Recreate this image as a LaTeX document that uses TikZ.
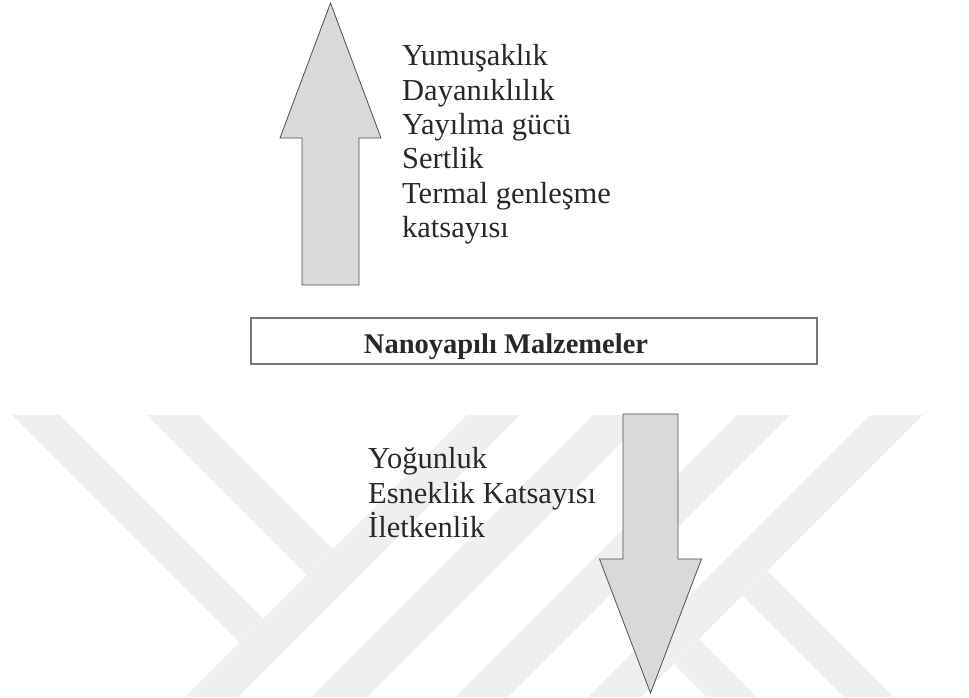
\documentclass[tikz,border=0pt]{standalone}
\usepackage{fontspec}
\setmainfont{Liberation Serif}
\usepackage{tikz}
\usetikzlibrary{calc}
\definecolor{arrowfill}{RGB}{216, 217, 219}
\definecolor{arrowline}{RGB}{80, 80, 80}
\definecolor{frameline}{RGB}{120, 120, 120}
\definecolor{watermark}{RGB}{239, 239, 239}
\definecolor{textdark}{RGB}{40, 40, 40}

\begin{document}
\begin{tikzpicture}[x=1pt, y=-1pt,
    bigarrow/.style={draw=arrowline, fill=arrowfill, line width=0.8pt, line join=miter},
    listtext/.style={font=\fontsize{30.5}{34.4}\selectfont, align=left, inner sep=0pt, text=textdark},
    frame/.style={draw=frameline, line width=1.3pt, fill=white, minimum width=566pt, minimum height=46pt, inner sep=0pt}]
  % Canvas
  \useasboundingbox (0,0) rectangle (969,697);

  % Watermark stripes
  \begin{scope}
    \clip (0,415) rectangle (969,697);
    \fill[watermark] (12,415) -- (60,415) -- (263.5,618.5) -- (239.5,642.5) -- cycle;
    \fill[watermark] (147,415) -- (199,415) -- (333,549) -- (307,575) -- cycle;
    \fill[watermark] (467,415) -- (520,415) -- (238,697) -- (185,697) -- cycle;
    \fill[watermark] (593,415) -- (649,415) -- (367,697) -- (311,697) -- cycle;
    \fill[watermark] (737,415) -- (790,415) -- (508,697) -- (455,697) -- cycle;
    \fill[watermark] (870,415) -- (923,415) -- (641,697) -- (588,697) -- cycle;
    \fill[watermark] (767.5,570.5) -- (894,697) -- (844,697) -- (742.5,595.5) -- cycle;
    \fill[watermark] (699,639) -- (757,697) -- (707,697) -- (674,664) -- cycle;
  \end{scope}

  % Arrow up
  \coordinate (uptip) at (330.5,3);
  \draw[bigarrow] (302,285) -- (302,138) -- (280,138) -- (uptip) -- (381,138) -- (359,138) -- (359,285) -- cycle;
  \node[listtext, anchor=north west] (uplist) at (402,44.3) {Yumuşaklık\\Dayanıklılık\\Yayılma gücü\\Sertlik\\Termal genleşme\\katsayısı};

  % Material box
  \node[frame] (box) at (534,341) {};
  \node[font=\fontsize{28.5}{34}\selectfont\bfseries, text=textdark, anchor=base] (title) at (506,353) {Nanoyapılı Malzemeler};

  % Arrow down
  \coordinate (downtip) at (650.5,693);
  \draw[bigarrow] (623,414) -- (678,414) -- (678,559) -- (701.5,559) -- (downtip) -- (599.5,559) -- (623,559) -- cycle;
  \node[listtext, anchor=north west] (downlist) at (368,447.3) {Yoğunluk\\Esneklik Katsayısı\\İletkenlik};
\end{tikzpicture}
\end{document}
